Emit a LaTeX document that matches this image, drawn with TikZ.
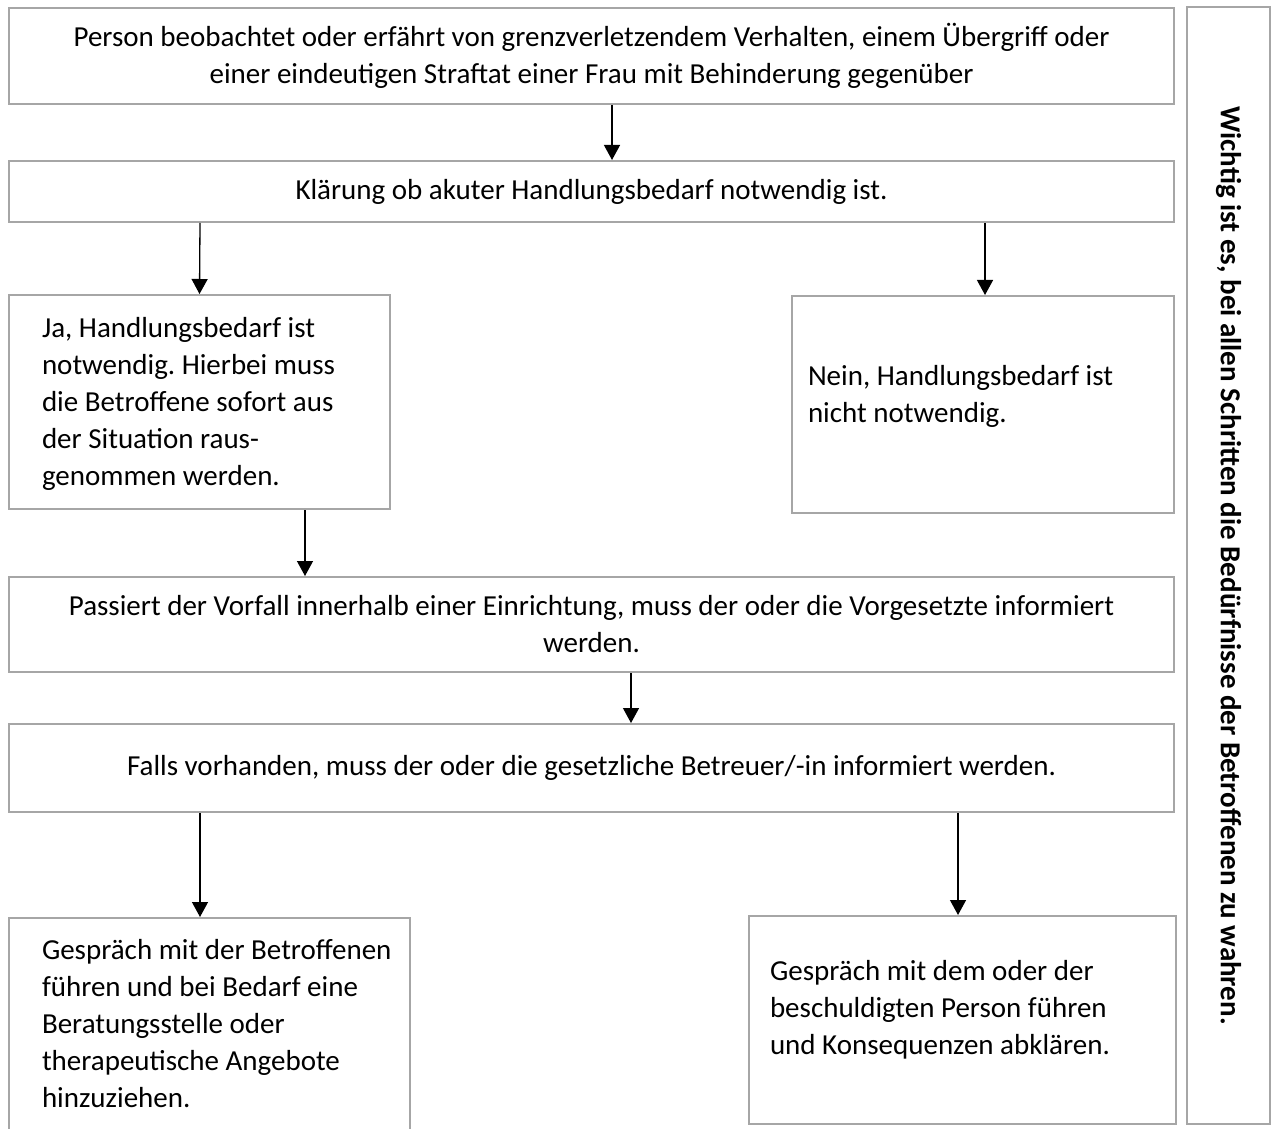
\documentclass[tikz,border=0pt]{standalone}
\usepackage{fontspec}
\setmainfont{Carlito}
\usetikzlibrary{positioning,arrows.meta}
\definecolor{rahmen}{HTML}{A6A6A6}
\frenchspacing

\begin{document}
\begin{tikzpicture}[x=0.5pt, y=-0.5pt,
    box/.style={draw=rahmen, line width=1pt, align=center, inner sep=0pt,
        font=\fontsize{14.5}{18.5}\selectfont},
    widebox/.style={box, minimum width=582.5pt},
    leftbox/.style={box, align=flush left},
    arrow/.style={-{Triangle[width=8pt, length=7.5pt]}, line width=0.65pt}
]
\useasboundingbox (0,0) rectangle (1272,1128);

% Hauptkaesten (volle Breite)
\node[widebox, minimum height=48pt] (beob) at (591.5,56) {Person beobachtet oder erfährt von grenzverletzendem Verhalten, einem Übergriff oder\\einer eindeutigen Straftat einer Frau mit Behinderung gegenüber};
\node[widebox, minimum height=30.5pt] (klaer) at (591.5,191.5) {Klärung ob akuter Handlungsbedarf notwendig ist.};

% Verzweigung ja / nein
\node[leftbox, minimum width=190.5pt, text width=157.5pt, text height=21pt, text depth=86pt] (ja) at (199.5,402) {Ja, Handlungsbedarf ist\\notwendig. Hierbei muss\\die Betroffene sofort aus\\der Situation raus-\\genommen werden.};
\node[leftbox, minimum width=191pt, text width=175pt, text height=44.5pt, text depth=64pt] (nein) at (983,404.5) {Nein, Handlungsbedarf ist\\nicht notwendig.};

\node[widebox, minimum height=47.5pt] (vorg) at (591.5,624.5) {Passiert der Vorfall innerhalb einer Einrichtung, muss der oder die Vorgesetzte informiert\\werden.};
\node[widebox, minimum height=44pt] (betr) at (591.5,768) {Falls vorhanden, muss der oder die gesetzliche Betreuer/-in informiert werden.};

% Gespraeche
\node[leftbox, minimum width=200.5pt, text width=167.5pt, text height=20.5pt, text depth=85.5pt] (gbetr) at (209.5,1024) {\mbox{Gespräch mit der Betroffenen}\\führen und bei Bedarf eine\\Beratungsstelle oder\\therapeutische Angebote\\hinzuziehen.};
\node[leftbox, minimum width=213.5pt, text width=192.5pt, text height=32pt, text depth=72pt] (gbesch) at (962.5,1020) {Gespräch mit dem oder der\\beschuldigten Person führen\\und Konsequenzen abklären.};

% Hinweis rechts
\node[box, minimum width=558.5pt, minimum height=41.5pt, rotate=-90, font=\fontsize{14.5}{18.5}\selectfont\bfseries] (hinweis) at (1228.5,565.5) {Wichtig ist es, bei allen Schritten die Bedürfnisse der Betroffenen zu wahren.};

% Pfeile
\draw[arrow] ([xshift=10.25pt]beob.south) -- ([xshift=10.25pt]klaer.north);
\draw[arrow] ([xshift=-195.75pt]klaer.south) -- (ja.north);
\draw[arrow] ([xshift=196.75pt]klaer.south) -- ([xshift=1pt]nein.north);
\draw[arrow] ([xshift=52.75pt]ja.south) -- ([xshift=-143.25pt]vorg.north);
\draw[arrow] ([xshift=19.75pt]vorg.south) -- ([xshift=19.75pt]betr.north);
\draw[arrow] ([xshift=-195.75pt]betr.south) -- ([xshift=-4.75pt]gbetr.north);
\draw[arrow] ([xshift=183.25pt]betr.south) -- ([xshift=-2.25pt]gbesch.north);
\end{tikzpicture}
\end{document}
